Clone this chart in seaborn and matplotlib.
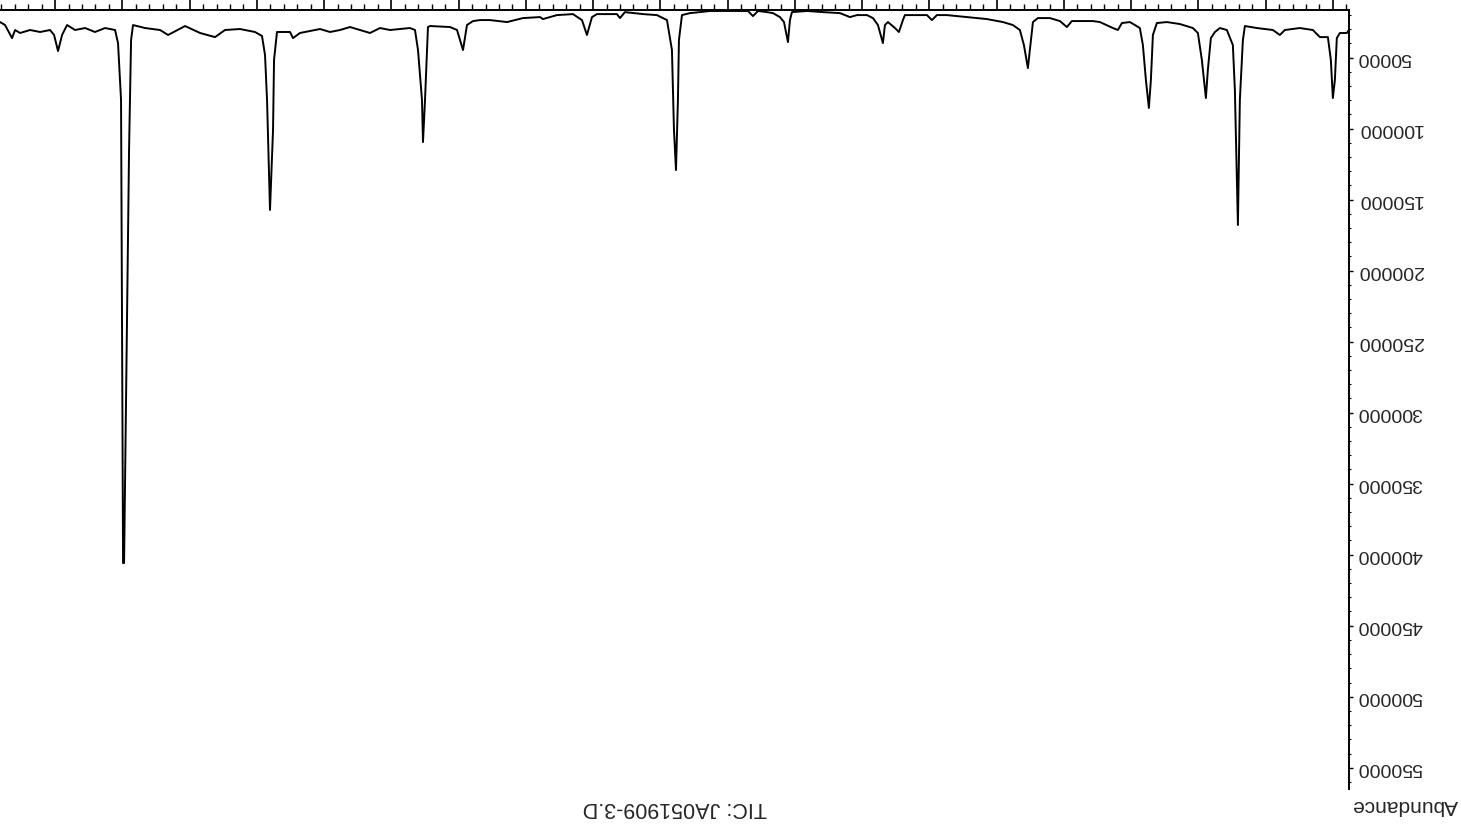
import numpy as np
import matplotlib
matplotlib.use("Agg")
import matplotlib.pyplot as plt
from matplotlib.ticker import MultipleLocator
import seaborn as sns

# =========================
# DATA (TIC chromatogram)
# =========================

time_min = [
    4.762, 4.792, 4.896, 4.941, 4.970, 5.000, 5.030, 5.074, 5.193, 5.297,
    5.491, 5.714, 5.788, 5.892, 6.130, 6.308, 6.338, 6.383, 6.412, 6.457,
    6.487, 6.576, 6.680, 6.754, 6.814, 6.859, 6.888, 6.948, 7.007, 7.082,
    7.275, 7.468, 7.617, 7.676, 7.706, 7.736, 7.780, 7.825, 7.870, 8.018,
    8.137, 8.197, 8.271, 8.464, 8.568, 8.881, 8.955, 9.059, 9.208, 9.386,
    9.460, 9.490, 9.535, 9.594, 9.654, 9.758, 9.906, 10.144, 10.442, 10.739,
    10.888, 10.962, 11.036, 11.245, 11.364, 11.393, 11.453, 11.512, 11.616, 11.661,
    11.691, 11.765, 11.839, 11.928, 12.077, 12.181, 12.330, 12.583, 12.821, 13.044,
    13.073, 13.103, 13.162, 13.222, 13.326, 13.415, 13.549, 13.623, 13.698, 13.817,
    14.263, 14.411, 14.560, 14.679, 14.724, 14.739, 14.768, 14.798, 14.828, 14.902,
    15.051, 15.259, 15.527, 15.601, 15.646, 15.943, 16.017, 16.092, 16.166, 16.300,
    16.538, 16.746, 16.790, 17.043, 17.281, 17.534, 17.682, 17.786, 17.876, 17.935,
    18.024, 18.128, 18.426, 18.456, 18.470, 18.500, 18.530, 18.545, 18.604, 18.649,
    18.723, 18.872, 19.021, 19.169, 19.318, 19.467, 19.615, 19.764, 19.913, 20.061,
    20.210, 20.359, 20.463, 20.507, 20.656, 20.701, 20.745, 20.760, 20.805, 20.849,
    20.879, 20.924, 21.028, 21.251, 21.474, 21.623, 21.845, 22.068, 22.321, 22.440,
    22.663, 22.842, 22.871, 22.901, 22.946, 22.975, 22.990, 23.020, 23.065, 23.109,
    23.258, 23.407, 23.555, 23.704, 23.823, 23.897, 23.957, 24.016, 24.076, 24.224,
    24.373, 24.522, 24.596, 24.641, 24.745, 24.819,
]

abundance = [
    30600, 32700, 32700, 36300, 65800, 78500, 51700, 35600, 35600, 30600,
    29200, 30600, 34100, 30600, 29200, 27800, 37700, 79900, 167900, 72900,
    41200, 30600, 29200, 32000, 36300, 58800, 78500, 51700, 32700, 29200,
    26400, 25000, 25700, 34100, 65800, 85500, 65800, 41200, 29200, 25000,
    25700, 30600, 29200, 25000, 24300, 24300, 28500, 24300, 22200, 22200,
    25000, 37700, 57400, 41200, 30600, 27100, 25000, 22900, 21500, 20100,
    20100, 23600, 20100, 20100, 20100, 23600, 32000, 29200, 25000, 27100,
    39800, 27100, 22200, 20100, 20100, 21500, 18700, 18000, 17200, 18000,
    23600, 39100, 25000, 21500, 18700, 18000, 17200, 20800, 17200, 17200,
    17200, 18000, 18700, 20100, 37700, 79900, 129200, 101000, 44700, 23600,
    20100, 19400, 18000, 22200, 19400, 19400, 21500, 34100, 23600, 19400,
    20100, 22900, 21500, 22200, 25000, 23600, 23600, 24300, 27100, 44700,
    30600, 28500, 27800, 28500, 44700, 79900, 109500, 79900, 44700, 30600,
    29200, 29900, 30600, 29200, 32700, 30600, 28500, 30600, 32000, 29900,
    31300, 32700, 36300, 32000, 32000, 32000, 51700, 101000, 157300, 79900,
    48200, 34800, 32000, 29900, 30600, 35600, 32700, 27800, 34100, 30600,
    29200, 27100, 37700, 115100, 291100, 405900, 405900, 79900, 39800, 30600,
    29200, 32000, 29200, 30600, 27100, 34100, 45400, 34100, 30600, 32000,
    30600, 32700, 30600, 36300, 27100, 25000,
]

y_ticks = list(range(50000, 550001, 50000))
title_text = "TIC: JA051909-3.D"
ylabel_text = "Abundance"

# =========================
# STYLE
# =========================

sns.set_style("white")
plt.rcParams["font.family"] = ["Liberation Sans", "DejaVu Sans"]

# =========================
# PLOT (scan is upside down, so both axes are flipped)
# =========================

fig = plt.figure(figsize=(14.61, 8.25), dpi=100)
ax = fig.add_axes([0.0, 0.0436, 1349 / 1461, 0.9443])

sns.lineplot(x=time_min, y=abundance, ax=ax, color="black",
             linewidth=1.4, estimator=None, sort=False)

ax.set_xlim(24.82, 4.76)
ax.set_ylim(565000, 16500)

# spines: only the time axis (top) and abundance axis (right)
for side in ["left", "bottom"]:
    ax.spines[side].set_visible(False)
for side in ["top", "right"]:
    ax.spines[side].set_visible(True)
    ax.spines[side].set_color("black")
    ax.spines[side].set_linewidth(1.4)

ax.xaxis.tick_top()
ax.xaxis.set_major_locator(MultipleLocator(1.0))
ax.xaxis.set_minor_locator(MultipleLocator(0.2))
ax.tick_params(axis="x", which="major", direction="out", length=8, width=1.2,
               color="black", labeltop=False, labelbottom=False)
ax.tick_params(axis="x", which="minor", direction="out", length=4, width=1.0,
               color="black")

ax.yaxis.tick_right()
ax.set_yticks(y_ticks)
ax.set_yticklabels([str(v) for v in y_ticks])
ax.yaxis.set_minor_locator(MultipleLocator(10000))
ax.tick_params(axis="y", which="major", direction="out", length=3, width=1.0,
               color="black", labelsize=14, labelrotation=180, pad=3)
ax.tick_params(axis="y", which="minor", direction="out", length=1.5,
               width=0.8, color="black")
for lbl in ax.get_yticklabels():
    lbl.set_verticalalignment("center")

ax.set_xlabel("")
ax.set_ylabel("")
ax.grid(False)

fig.text(1405 / 1461, 1 - 805 / 825, ylabel_text, rotation=180,
         ha="center", va="center", fontsize=15)
fig.text(675 / 1461, 1 - 808 / 825, title_text, rotation=180,
         ha="center", va="center", fontsize=15.5)

plt.savefig("out.png", dpi=100)
